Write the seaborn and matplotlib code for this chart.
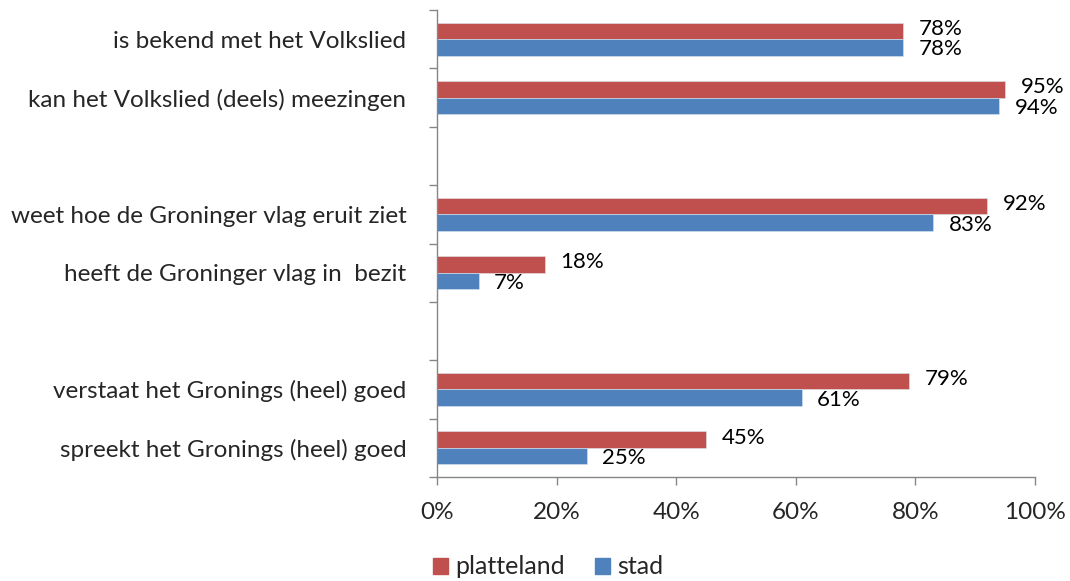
import pandas as pd
import numpy as np
import matplotlib
matplotlib.use("Agg")
import matplotlib.pyplot as plt
import seaborn as sns
from matplotlib.ticker import FuncFormatter, FixedLocator

# --- data ---
categories = [
    "is bekend met het Volkslied",
    "kan het Volkslied (deels) meezingen",
    " ",
    "weet hoe de Groninger vlag eruit ziet",
    "heeft de Groninger vlag in  bezit",
    "  ",
    "verstaat het Gronings (heel) goed",
    "spreekt het Gronings (heel) goed",
]
items = [c for c in categories if c.strip()]
platteland = [78, 95, 92, 18, 79, 45]
stad = [78, 94, 83, 7, 61, 25]
series = ["platteland", "stad"]
colors = {"platteland": "#C0504D", "stad": "#4F81BD"}

df = pd.DataFrame({
    "item": items * 2,
    "groep": ["platteland"] * len(items) + ["stad"] * len(items),
    "waarde": platteland + stad,
})

sns.set_style("white")
plt.rcParams["font.family"] = ["Lato", "DejaVu Sans"]

fig = plt.figure(figsize=(10.7, 5.81), dpi=100)
ax = fig.add_axes([437 / 1070, 1 - 477 / 581, (1035 - 437) / 1070, (477 - 10) / 581])

sns.barplot(data=df, y="item", x="waarde", hue="groep", order=categories,
            hue_order=series, palette=colors, saturation=1, width=0.56, orient="h",
            edgecolor="#dde6f0", linewidth=0.4, ax=ax, legend=False)

# labels: platteland a bit up, stad a bit down (they sit close together)
for cont, dy in zip(ax.containers, [1.5, -1.5]):
    anns = ax.bar_label(cont, labels=[f"{v:.0f}%" for v in cont.datavalues],
                        padding=11, fontsize=16, color="#000000")
    for a in anns:
        a.xyann = (11, dy)

ax.set_xlim(0, 100)
ax.set_ylim(len(categories) - 0.5, -0.5)
ax.set_xticks(np.arange(0, 101, 20))
ax.xaxis.set_major_formatter(FuncFormatter(lambda v, p: f"{v:.0f}%"))
ax.tick_params(axis="x", bottom=True, length=6, width=1, color="#868686",
               labelsize=17.5, pad=12, direction="out")

ax.set_yticks(range(len(categories)))
ax.set_yticklabels(categories, fontsize=17.5)
ax.tick_params(axis="y", which="major", left=False, length=0, pad=22)
ax.yaxis.set_minor_locator(FixedLocator(np.arange(-0.5, len(categories), 1.0)))
ax.tick_params(axis="y", which="minor", left=True, length=6, width=1,
               color="#868686", direction="out")

ax.set_xlabel("")
ax.set_ylabel("")
for side in ["top", "right"]:
    ax.spines[side].set_visible(False)
for side in ["left", "bottom"]:
    ax.spines[side].set_color("#868686")
    ax.spines[side].set_linewidth(1)

handles = [plt.Rectangle((0, 0), 1, 1, color=colors[s]) for s in series]
fig.legend(handles, series, loc="center", bbox_to_anchor=(548 / 1070, 1 - 567 / 581),
           ncol=2, frameon=False, fontsize=18, handlelength=0.6, handleheight=0.6,
           handletextpad=0.3, columnspacing=1.2)

fig.savefig("out.png", dpi=100)
